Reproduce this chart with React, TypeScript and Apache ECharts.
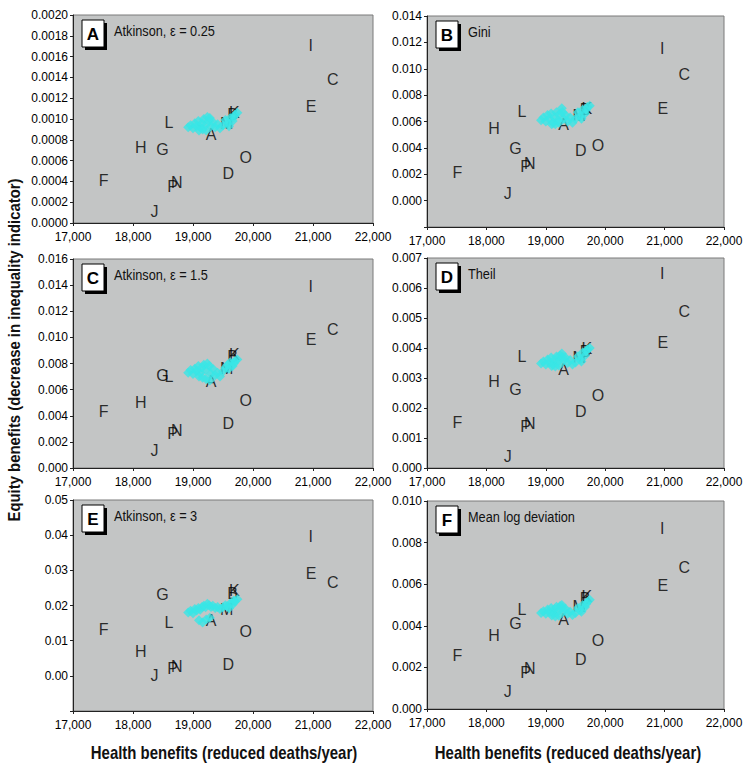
import React, { useEffect, useRef } from 'react';
import * as echarts from 'echarts';

// ---------- DATA ----------
const letters = ['A', 'B', 'C', 'D', 'E', 'F', 'G', 'H', 'I', 'J', 'K', 'L', 'M', 'N', 'O', 'P'];
const healthBenefits = [19300, 19660, 21330, 19590, 20970, 17510, 18490, 18130, 20960, 18360, 19690, 18600, 19560, 18730, 19880, 18660];

const equityAtkinson025 = [0.00085, 0.00104, 0.00138, 0.00048, 0.00112, 0.00041, 0.00071, 0.00073, 0.00171, 0.00011, 0.00106, 0.00097, 0.00096, 0.00039, 0.00063, 0.00035];
const equityGini = [0.00575, 0.0069, 0.00954, 0.00381, 0.0070, 0.00217, 0.00394, 0.0055, 0.01156, 0.00053, 0.0070, 0.00676, 0.00643, 0.0028, 0.00419, 0.00255];
const equityAtkinson15 = [0.00663, 0.0085, 0.01058, 0.00344, 0.00982, 0.00433, 0.00706, 0.00502, 0.0139, 0.00135, 0.00867, 0.00701, 0.00765, 0.00288, 0.00515, 0.00262];
const equityTheil = [0.00328, 0.0039, 0.00522, 0.00189, 0.00417, 0.00152, 0.00261, 0.00289, 0.0065, 0.00037, 0.0040, 0.00372, 0.0037, 0.0015, 0.00241, 0.00137];
const equityAtkinson3 = [0.0156, 0.0235, 0.0266, 0.0031, 0.0291, 0.0132, 0.0231, 0.0069, 0.0396, 0.0002, 0.0243, 0.0151, 0.0189, 0.0027, 0.0127, 0.0022];
const equityMLD = [0.00428, 0.0053, 0.00679, 0.00236, 0.00596, 0.00255, 0.00412, 0.00351, 0.00867, 0.00084, 0.0054, 0.00476, 0.00495, 0.00196, 0.00327, 0.00177];

// cyan cluster (other scenarios)
const clusterHealth = [18920, 18960, 19000, 19030, 19060, 19090, 19120, 19150, 19180, 19210, 19240, 19270, 19300, 19330, 19370, 19410, 19450, 19500, 19540, 19580, 19620, 19660, 19700, 19740, 19100, 19160, 19220, 19280, 19600, 19680];
const clusterAtkinson025 = [0.00092, 0.00094, 0.00091, 0.00096, 0.00093, 0.00098, 0.00092, 0.00096, 0.00100, 0.00094, 0.00102, 0.00098, 0.00093, 0.00097, 0.00092, 0.00095, 0.00091, 0.00094, 0.00099, 0.00096, 0.00101, 0.00098, 0.00104, 0.00106, 0.00089, 0.00090, 0.00089, 0.00101, 0.00093, 0.00102];
const clusterGini = [0.0061, 0.0063, 0.0060, 0.0065, 0.0062, 0.0066, 0.0059, 0.0063, 0.0067, 0.0061, 0.0066, 0.0070, 0.0062, 0.0065, 0.0060, 0.0063, 0.0059, 0.0062, 0.0067, 0.0064, 0.0069, 0.0066, 0.0071, 0.0072, 0.0058, 0.0058, 0.0059, 0.0067, 0.0062, 0.0069];
const clusterAtkinson15 = [0.0073, 0.0075, 0.0072, 0.0076, 0.0074, 0.0078, 0.0073, 0.0077, 0.0079, 0.0075, 0.0080, 0.0078, 0.0072, 0.0076, 0.0071, 0.0073, 0.0070, 0.0074, 0.0077, 0.0079, 0.0081, 0.0078, 0.0082, 0.0083, 0.0070, 0.0069, 0.0068, 0.0067, 0.0076, 0.0080];
const clusterTheil = [0.00348, 0.00355, 0.00345, 0.00362, 0.00352, 0.00368, 0.00345, 0.00360, 0.00372, 0.00355, 0.00375, 0.00382, 0.00358, 0.00368, 0.00350, 0.00360, 0.00345, 0.00352, 0.00372, 0.00362, 0.00385, 0.00375, 0.00395, 0.00400, 0.00340, 0.00338, 0.00342, 0.00370, 0.00355, 0.00390];
const clusterAtkinson3 = [0.0180, 0.0185, 0.0178, 0.0190, 0.0186, 0.0193, 0.0188, 0.0196, 0.0199, 0.0195, 0.0205, 0.0201, 0.0196, 0.0199, 0.0193, 0.0196, 0.0190, 0.0195, 0.0201, 0.0198, 0.0206, 0.0203, 0.0212, 0.0218, 0.0158, 0.0152, 0.0160, 0.0165, 0.0192, 0.0214];
const clusterMLD = [0.00462, 0.00470, 0.00458, 0.00478, 0.00466, 0.00485, 0.00462, 0.00480, 0.00492, 0.00470, 0.00495, 0.00500, 0.00470, 0.00482, 0.00458, 0.00468, 0.00452, 0.00462, 0.00485, 0.00475, 0.00500, 0.00490, 0.00515, 0.00525, 0.00450, 0.00445, 0.00448, 0.00488, 0.00468, 0.00505];

const panelLetters = ['A', 'B', 'C', 'D', 'E', 'F'];
const panelTitles = ['Atkinson, ε = 0.25', 'Gini', 'Atkinson, ε = 1.5', 'Theil', 'Atkinson, ε = 3', 'Mean log deviation'];
const xTicks = [17000, 22000, 1000];
const yMins = [0, -0.002, 0, 0, -0.01, 0];
const yMaxs = [0.002, 0.014, 0.016, 0.007, 0.05, 0.01];
const yIntervals = [0.0002, 0.002, 0.002, 0.001, 0.01, 0.002];
const yDecimals = [4, 3, 3, 3, 2, 3];

const letterSets = [equityAtkinson025, equityGini, equityAtkinson15, equityTheil, equityAtkinson3, equityMLD];
const clusterSets = [clusterAtkinson025, clusterGini, clusterAtkinson15, clusterTheil, clusterAtkinson3, clusterMLD];

// ---------- LAYOUT ----------
const gridsPx = [
  { left: 73, top: 15, width: 300, height: 208 },
  { left: 427, top: 16, width: 297, height: 211 },
  { left: 73, top: 259, width: 300, height: 209 },
  { left: 427, top: 258, width: 297, height: 210 },
  { left: 73, top: 500, width: 300, height: 211 },
  { left: 427, top: 501, width: 297, height: 208 },
];

const SANS = "'Liberation Sans', Arial, sans-serif";

export default function App() {
  const ref = useRef<HTMLDivElement>(null);
  useEffect(() => {
    document.body.style.margin = '0';
    const chart = echarts.init(ref.current!, null, { renderer: 'svg' });

    const grid = gridsPx.map((g) => ({
      ...g,
      show: true,
      backgroundColor: '#c3c5c5',
      borderColor: '#7a7a7a',
      borderWidth: 1,
      containLabel: false,
    }));

    const xAxis = gridsPx.map((_, i) => ({
      type: 'value',
      gridIndex: i,
      min: xTicks[0],
      max: xTicks[1],
      interval: xTicks[2],
      splitLine: { show: false },
      axisLine: { show: true, onZero: false, lineStyle: { color: '#222', width: 1 } },
      axisTick: { show: true, inside: false, length: 3, lineStyle: { color: '#222' } },
      axisLabel: {
        margin: 8,
        fontFamily: SANS,
        fontSize: 12,
        color: '#000',
        formatter: (v: number) => v.toLocaleString('en-US'),
      },
    }));

    const yAxis = gridsPx.map((_, i) => ({
      type: 'value',
      gridIndex: i,
      min: yMins[i],
      max: yMaxs[i],
      interval: yIntervals[i],
      splitLine: { show: false },
      axisLine: { show: true, onZero: false, lineStyle: { color: '#222', width: 1 } },
      axisTick: { show: true, inside: false, length: 3, lineStyle: { color: '#222' } },
      axisLabel: {
        margin: 5,
        fontFamily: SANS,
        fontSize: 12,
        color: '#000',
        formatter: (v: number) => (v < -1e-12 ? '' : Math.abs(v).toFixed(yDecimals[i])),
      },
    }));

    const series: any[] = [];
    gridsPx.forEach((_, i) => {
      series.push({
        type: 'scatter',
        xAxisIndex: i,
        yAxisIndex: i,
        z: 2,
        symbol: 'circle',
        symbolSize: 2,
        itemStyle: { color: 'rgba(0,0,0,0)' },
        label: {
          show: true,
          position: 'inside',
          formatter: (p: any) => p.name,
          fontFamily: SANS,
          fontSize: 16,
          color: '#000',
          textBorderWidth: 0,
          textBorderColor: 'transparent',
        },
        data: letters.map((l, k) => ({ name: l, value: [healthBenefits[k], letterSets[i][k]] })),
      });
      series.push({
        type: 'scatter',
        xAxisIndex: i,
        yAxisIndex: i,
        z: 3,
        symbol: 'diamond',
        symbolSize: 10,
        itemStyle: { color: '#38e6e6' },
        data: clusterHealth.map((x, k) => [x, clusterSets[i][k]]),
      });
    });

    const graphic: any[] = [];
    gridsPx.forEach((g, i) => {
      const bx = g.left + 9;
      const by = g.top + 5;
      graphic.push({ type: 'rect', shape: { x: bx + 3, y: by + 3, width: 22, height: 27 }, style: { fill: '#000' }, z: 10 });
      graphic.push({ type: 'rect', shape: { x: bx, y: by, width: 22, height: 27 }, style: { fill: '#fff', stroke: '#000', lineWidth: 1 }, z: 11 });
      graphic.push({
        type: 'text', x: bx + 11, y: by + 14, z: 12,
        style: { text: panelLetters[i], align: 'center', verticalAlign: 'middle', fontFamily: SANS, fontWeight: 'bold', fontSize: 17, fill: '#000' },
      });
      graphic.push({
        type: 'text', x: g.left + 41, y: by + 11, z: 12, scaleX: 0.85,
        style: { text: panelTitles[i], align: 'left', verticalAlign: 'middle', fontFamily: SANS, fontSize: 15, fill: '#111' },
      });
    });
    graphic.push({
      type: 'text', x: 14, y: 350, rotation: Math.PI / 2, scaleX: 0.875,
      style: { text: 'Equity benefits (decrease in inequality indicator)', align: 'center', verticalAlign: 'middle', fontFamily: SANS, fontWeight: 'bold', fontSize: 17, fill: '#111' },
    });
    graphic.push({
      type: 'text', x: 224, y: 753, scaleX: 0.83,
      style: { text: 'Health benefits (reduced deaths/year)', align: 'center', verticalAlign: 'middle', fontFamily: SANS, fontWeight: 'bold', fontSize: 18, fill: '#111' },
    });
    graphic.push({
      type: 'text', x: 568, y: 753, scaleX: 0.83,
      style: { text: 'Health benefits (reduced deaths/year)', align: 'center', verticalAlign: 'middle', fontFamily: SANS, fontWeight: 'bold', fontSize: 18, fill: '#111' },
    });

    chart.setOption({
      animation: false,
      backgroundColor: '#ffffff',
      grid,
      xAxis,
      yAxis,
      series,
      graphic,
    });
    return () => chart.dispose();
  }, []);
  return <div ref={ref} style={{ width: 749, height: 768 }} />;
}
